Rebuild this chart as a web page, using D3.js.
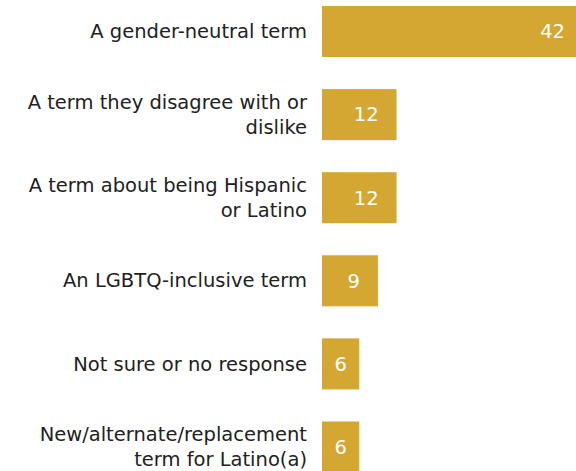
<!DOCTYPE html>
<html>
<head>
<meta charset="utf-8">
<script src="https://cdn.jsdelivr.net/npm/d3@7"></script>
<style>
  html, body { margin: 0; padding: 0; background: #ffffff; overflow: hidden; }
  svg { display: block; }
</style>
</head>
<body>
<svg id="chart" width="576" height="471"></svg>
<script>
// Category labels ("\n" marks a line break) and their shares
const categories = [
  "A gender-neutral term",
  "A term they disagree with or\ndislike",
  "A term about being Hispanic\nor Latino",
  "An LGBTQ-inclusive term",
  "Not sure or no response",
  "New/alternate/replacement\nterm for Latino(a)"
];
const values = [42, 12, 12, 9, 6, 6];

const barColor = "#D4A732";
const fontFamily = "'DejaVu Sans', 'Noto Sans', sans-serif";

const svg = d3.select("#chart");

const x = d3.scaleLinear().domain([0, 42]).range([322, 583]);
const y = d3.scaleBand()
  .domain(categories)
  .range([6, 472.5])
  .paddingInner(0.386)
  .paddingOuter(0);

const rows = svg.selectAll("g.row")
  .data(categories.map((c, i) => ({ cat: c, value: values[i] })))
  .join("g")
  .attr("class", "row");

rows.append("rect")
  .attr("x", x(0))
  .attr("y", d => y(d.cat))
  .attr("width", d => x(d.value) - x(0))
  .attr("height", y.bandwidth())
  .attr("fill", barColor);

// Category labels, right-aligned to the left of the bars
const lineH = 25;
rows.append("text")
  .attr("text-anchor", "end")
  .attr("font-family", fontFamily)
  .attr("font-size", 19.5)
  .attr("fill", "#222222")
  .each(function (d) {
    const lines = d.cat.split("\n");
    const cy = y(d.cat) + y.bandwidth() / 2;
    const first = cy - (lines.length - 1) * lineH / 2;
    const t = d3.select(this);
    lines.forEach((ln, k) => {
      t.append("tspan")
        .attr("x", 307)
        .attr("y", first + k * lineH)
        .attr("dy", "0.34em")
        .text(ln);
    });
  });

// Value labels inside the bars: near the bar end, centred when the bar is short
rows.append("text")
  .attr("font-family", fontFamily)
  .attr("font-size", 19.5)
  .attr("fill", "#ffffff")
  .attr("text-anchor", "end")
  .attr("dy", "0.35em")
  .attr("y", d => y(d.cat) + y.bandwidth() / 2)
  .text(d => d.value)
  .each(function (d) {
    const tw = this.getComputedTextLength();
    const w = x(d.value) - x(0);
    const xe = Math.max(x(d.value) - 18, x(0) + w / 2 + tw / 2);
    d3.select(this).attr("x", xe);
  });
</script>
</body>
</html>
